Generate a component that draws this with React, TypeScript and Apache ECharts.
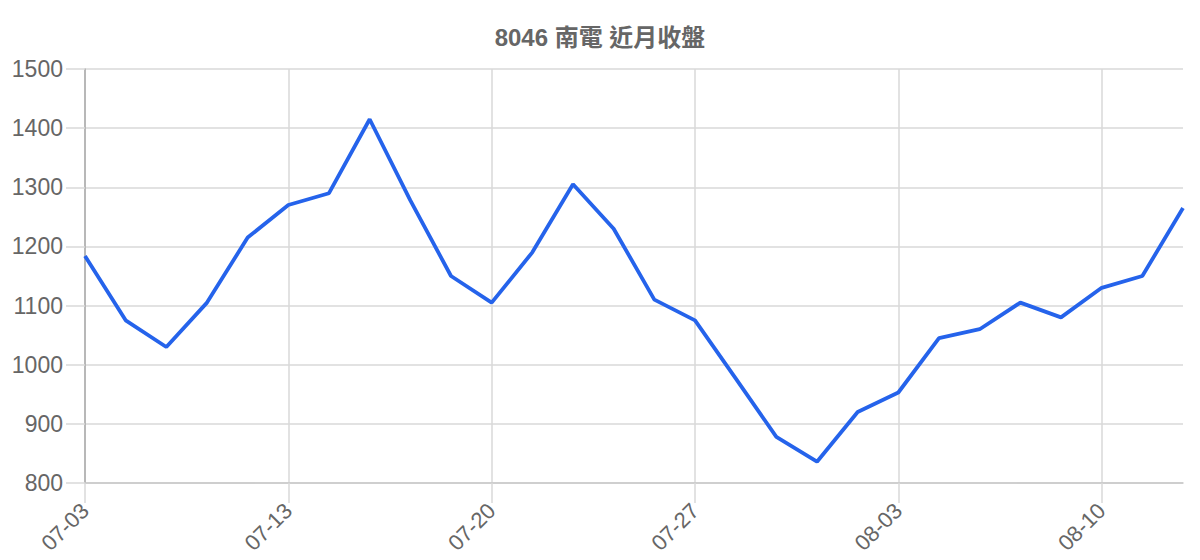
import { useEffect, useRef } from "react";
import * as echarts from "echarts";

const title = "8046 南電 近月收盤";

const dates = [
  "07-03", "07-06", "07-07", "07-08", "07-09",
  "07-13", "07-14", "07-15", "07-16", "07-17",
  "07-20", "07-21", "07-22", "07-23", "07-24",
  "07-27", "07-28", "07-29", "07-30", "07-31",
  "08-03", "08-04", "08-05", "08-06", "08-07",
  "08-10", "08-11", "08-12",
];

const closes = [
  1184, 1075, 1030, 1105, 1215,
  1270, 1290, 1415, 1278, 1150,
  1105, 1190, 1305, 1230, 1110,
  1075, 977, 878, 836, 920,
  953, 1045, 1060, 1105, 1080,
  1130, 1150, 1265,
];

const yTicks = { min: 800, max: 1500, step: 100 };

const font = "'Liberation Sans', Arial, 'Noto Sans CJK TC', sans-serif";

const App = () => {
  const chartRef = useRef(null);

  useEffect(() => {
    document.body.style.margin = "0";
    const chart = echarts.init(chartRef.current, null, { renderer: "svg" });

    const option: any = {
      animation: false,
      textStyle: { fontFamily: font },
      title: {
        text: title,
        left: "center",
        top: 20,
        textStyle: { fontSize: 24, fontWeight: "bold", color: "#666", fontFamily: font },
      },
      grid: { left: 85, right: 17, top: 69, bottom: 77 },
      xAxis: {
        type: "category",
        boundaryGap: false,
        data: dates,
        axisLine: { lineStyle: { color: "#c8c8c8", width: 1.5 } },
        axisTick: { show: true, interval: 4, length: 20, lineStyle: { color: "#d9d9d9", width: 1.5 } },
        axisLabel: { interval: 4, rotate: 45, margin: 24, fontSize: 22, color: "#666" },
        splitLine: { show: true, interval: 4, lineStyle: { color: "#d9d9d9", width: 1.5 } },
      },
      yAxis: {
        type: "value",
        min: yTicks.min,
        max: yTicks.max,
        interval: yTicks.step,
        axisLine: { show: true, lineStyle: { color: "#aaa", width: 1.5 } },
        axisTick: { show: true, length: 19, lineStyle: { color: "#d9d9d9", width: 1.5 } },
        axisLabel: {
          margin: 22,
          fontSize: 23,
          color: "#666",
          formatter: (v: number) => String(v),
        },
        splitLine: { lineStyle: { color: "#d9d9d9", width: 1.5 } },
      },
      series: [
        {
          name: "收盤",
          type: "line",
          data: closes,
          symbol: "none",
          lineStyle: { color: "#2563eb", width: 3.8 },
          itemStyle: { color: "#2563eb" },
        },
      ],
    };

    chart.setOption(option);

    return () => {
      chart.dispose();
    };
  }, []);

  return <div ref={chartRef} style={{ width: "1200px", height: "560px" }} />;
};

export default App;
